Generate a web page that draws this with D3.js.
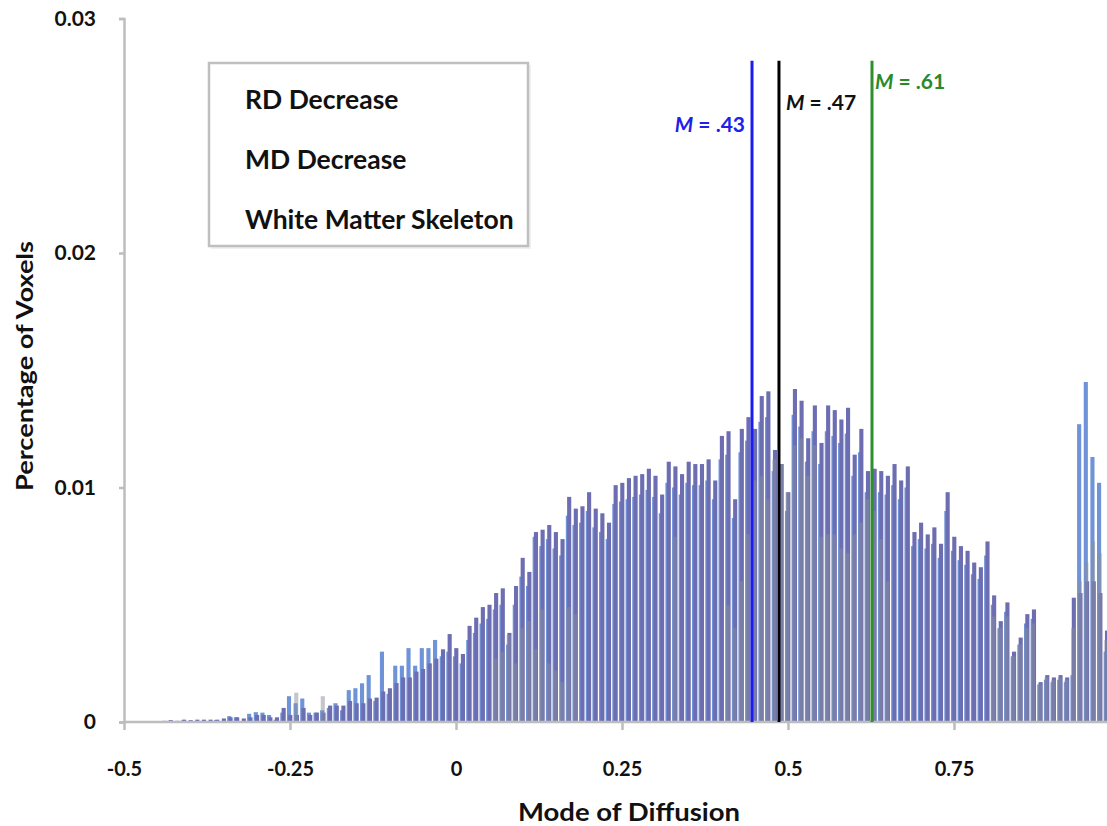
<!DOCTYPE html>
<html><head><meta charset="utf-8">
<script src="https://cdn.jsdelivr.net/npm/d3@7"></script>
<style>
html,body{margin:0;padding:0;background:#fff;}
svg{display:block;}
text{font-family:Lato,"Open Sans",sans-serif;}
</style></head>
<body>
<script>
// Bin centres: -0.49 ... 0.99 in steps of 0.01 (149 bins)
const binStart = -0.49, binStep = 0.01;
const seriesNames = ["RD Decrease", "MD Decrease", "White Matter Skeleton"];

// RD Decrease (light blue)
const rdDecrease = [
 0,0,0,0,0,0,0.00005,0,0.00006,0,
 0,0.00005,0,0.00008,0,0.00025,0.0002,0,0.00035,0.00042,
 0.0004,0.0003,0.0001,0.0004,0.0011,0.0008,0.001,0.0004,0.0004,0.0005,
 0.0006,0.0008,0.0005,0.00136,0.00144,0.00165,0.002,0.0009,0.003,0.0012,
 0.0024,0.0024,0.00315,0.0024,0.00315,0.00315,0.0035,0.0028,0.003,0.0028,
 0.0025,0.0035,0.0038,0.0042,0.0044,0.0048,0.005,0.0033,0.005,0.0062,
 0.0058,0.0079,0.0075,0.0078,0.0074,0.0071,0.0088,0.0084,0.0085,0.009,
 0.0083,0.0081,0.0078,0.0093,0.0094,0.0095,0.0096,0.0097,0.0099,0.0096,
 0.0089,0.0102,0.01,0.0097,0.0102,0.0101,0.0101,0.0103,0.0095,0.0112,
 0.0114,0.0087,0.0115,0.012,0.0115,0.0128,0.013,0.0107,0.0101,0.009,
 0.0131,0.0126,0.0111,0.0124,0.011,0.0124,0.0122,0.0119,0.0123,0.0105,
 0.0115,0.0098,0.0099,0.0098,0.0097,0.0101,0.0095,0.01,0.0075,0.0078,
 0.0074,0.0076,0.007,0.009,0.0073,0.0069,0.0067,0.0063,0.0061,0.0071,
 0.005,0.004,0.0047,0.0028,0.0033,0.0042,0.0044,0.0016,0.0018,0.0017,
 0.0018,0.0017,0.002,0.0127,0.0145,0.0113,0.0102,0.003,0.003
];
// MD Decrease (grey)
const mdDecrease = [
 0,0,0,0,0,0,0,0,0,0,
 0,0,0,0,0,0,0,0,0,0,
 0,0,0,0,0,0.00125,0,0,0,0.0011,
 0,0,0,0,0,0,0,0,0,0,
 0,0,0,0,0,0,0,0,0,0,
 0,0,0,0,0,0.0027,0.003,0.0037,0.0025,0.004,
 0.0043,0.0031,0.0048,0.0025,0.0022,0.0017,0.0049,0.0046,0,0,
 0,0,0,0,0,0,0,0,0,0,
 0,0,0.0079,0,0,0,0,0,0,0,
 0.005,0.004,0.006,0.008,0.0103,0.0105,0.0095,0.0112,0.011,0.0098,
 0.0118,0.0121,0.0105,0.0118,0.0079,0.008,0.008,0.0074,0.0072,0.008,
 0.0085,0.0095,0.009,0.0078,0.006,0,0,0,0,0,
 0,0,0,0,0,0,0,0,0,0,
 0.0045,0.004,0.0045,0.0028,0.0033,0.004,0.0042,0.0016,0.0019,0.0018,
 0.0019,0.0018,0.004,0.006,0.0068,0.0077,0.0072,0.0035,0.0035
];
// White Matter Skeleton (purple)
const skeleton = [
 0,0,0,0,0,0.00005,0.00008,0.00005,0.0001,0.00008,
 0.0001,0.0001,0.0001,0.0001,0.00015,0.0002,0.0002,0.00015,0.0002,0.0003,
 0.0003,0.0002,0.0002,0.0006,0.0003,0.0003,0.0006,0.0003,0.0004,0.0004,
 0.0007,0.0007,0.0007,0.0009,0.0008,0.0008,0.001,0.00104,0.0013,0.00144,
 0.00166,0.0019,0.0019,0.00215,0.00226,0.0025,0.0027,0.0031,0.00375,0.00315,
 0.0029,0.0041,0.00445,0.0049,0.005,0.0055,0.0057,0.0038,0.0058,0.007,
 0.0064,0.0081,0.0082,0.0084,0.0081,0.0078,0.0096,0.0091,0.0092,0.0098,
 0.0091,0.0089,0.0085,0.0101,0.0102,0.0104,0.0105,0.01057,0.0108,0.0105,
 0.0097,0.0111,0.0109,0.01057,0.0111,0.011,0.011,0.0112,0.0103,0.0122,
 0.0124,0.0095,0.0125,0.013,0.0125,0.0139,0.0141,0.0116,0.011,0.0098,
 0.0142,0.0137,0.0121,0.0135,0.0119,0.0135,0.0133,0.0129,0.0134,0.0114,
 0.0125,0.0107,0.0108,0.0107,0.0105,0.011,0.0103,0.0109,0.0081,0.0085,
 0.008,0.0083,0.0076,0.0098,0.0079,0.0075,0.0073,0.0068,0.0066,0.0077,
 0.0054,0.0043,0.0051,0.003,0.0036,0.0046,0.0048,0.0017,0.002,0.0019,
 0.002,0.0019,0.0053,0.0055,0.006,0.006,0.0055,0.0039,0.004
];

// Mean lines (drawn position on the x axis) and their labels
const meanPositions = [0.4458, 0.4864, 0.6265];
const meanLabels = [".43", ".47", ".61"];
const meanTop = 0.0282;

const xTicks = [-0.5, -0.25, 0, 0.25, 0.5, 0.75];
const xTickLabels = ["-0.5", "-0.25", "0", "0.25", "0.5", "0.75"];
const yTicks = [0, 0.01, 0.02, 0.03];
const yTickLabels = ["0", "0.01", "0.02", "0.03"];

const W = 1107, H = 826;
const svg = d3.select("body").append("svg").attr("width", W).attr("height", H);

const x = d3.scaleLinear().domain([-0.5, 1.0]).range([124, 1120]);
const y = d3.scaleLinear().domain([0, 0.03]).range([722, 18.5]);
const binPx = x(binStep) - x(0);
const barW = binPx * 0.62;

svg.append("defs").append("clipPath").attr("id", "plot")
  .append("rect").attr("x", 124).attr("y", 0).attr("width", W - 124).attr("height", 723);

const bars = svg.append("g").attr("clip-path", "url(#plot)");
const layers = [
  {data: rdDecrease, color: "#6e93d8", opacity: 1, dx: -1.0},
  {data: skeleton, color: "#6d6db2", opacity: 1, dx: 0.3},
  {data: mdDecrease, color: "#87909a", opacity: 0.5, dx: -0.4}
];
layers.forEach(L => {
  bars.append("g").selectAll("rect").data(L.data).join("rect")
    .attr("x", (d, i) => x(binStart + i * binStep) - barW / 2 + L.dx)
    .attr("width", barW)
    .attr("y", d => y(d))
    .attr("height", d => y(0) - y(d))
    .attr("fill", L.color)
    .attr("fill-opacity", L.opacity);
});

// Axes
const axisColor = "#bdbdbd";
const gx = svg.append("g").attr("transform", `translate(0,${y(0)})`)
  .call(d3.axisBottom(x).tickValues(xTicks).tickSize(8).tickPadding(32)
    .tickFormat((d, i) => xTickLabels[i]));
gx.select(".domain").attr("stroke", axisColor).attr("stroke-width", 2.5)
  .attr("d", `M${x(-0.5)},0H${W}`);
gx.selectAll(".tick line").attr("stroke", axisColor).attr("stroke-width", 2.5);
gx.selectAll(".tick text").attr("fill", "#111").style("font-size", "20px").style("font-weight", "bold");

const gy = svg.append("g").attr("transform", `translate(${x(-0.5)},0)`)
  .call(d3.axisLeft(y).tickValues(yTicks).tickSize(5).tickPadding(23)
    .tickFormat((d, i) => yTickLabels[i]));
gy.select(".domain").attr("stroke", axisColor).attr("stroke-width", 2.5);
gy.selectAll(".tick line").attr("stroke", axisColor).attr("stroke-width", 2.5);
gy.selectAll(".tick text").attr("fill", "#111").style("font-size", "21px").style("font-weight", "bold");

// Axis titles
svg.append("text").attr("x", 629).attr("y", 821).attr("text-anchor", "middle")
  .attr("textLength", 222).attr("lengthAdjust", "spacingAndGlyphs")
  .style("font-size", "24px").style("font-weight", "bold").attr("fill", "#111")
  .text("Mode of Diffusion");
svg.append("text").attr("transform", "translate(33,366) rotate(-90)").attr("text-anchor", "middle")
  .attr("textLength", 250).attr("lengthAdjust", "spacingAndGlyphs")
  .style("font-size", "23px").style("font-weight", "bold").attr("fill", "#111")
  .text("Percentage of Voxels");

// Mean lines
const lineColors = ["#1c1cf2", "#000000", "#2f8f2f"];
const labelColors = ["#2020e8", "#111111", "#2a8a2a"];
svg.append("g").selectAll("line").data(meanPositions).join("line")
  .attr("x1", d => x(d)).attr("x2", d => x(d))
  .attr("y1", y(meanTop)).attr("y2", y(0))
  .attr("stroke", (d, i) => lineColors[i]).attr("stroke-width", 3);

const labelY = [0.02516, 0.0261, 0.027];
const labelAnchor = ["end", "start", "start"];
const labelDx = [-7, 7, 3];
meanPositions.forEach((p, i) => {
  const t = svg.append("text").attr("x", x(p) + labelDx[i]).attr("y", y(labelY[i]))
    .attr("text-anchor", labelAnchor[i]).attr("fill", labelColors[i])
    .style("font-size", "21px").style("font-weight", "bold");
  t.append("tspan").style("font-style", "italic").text("M");
  t.append("tspan").text(" = " + meanLabels[i]);
});

// Legend
const lg = svg.append("g");
lg.append("rect").attr("x", 211).attr("y", 65).attr("width", 320).attr("height", 184)
  .attr("fill", "#e6e6e6").attr("opacity", 0.6);
lg.append("rect").attr("x", 209).attr("y", 63).attr("width", 319).attr("height", 183)
  .attr("fill", "#fff").attr("stroke", "#bfbfbf").attr("stroke-width", 2.5);
lg.selectAll("text").data(seriesNames).join("text")
  .attr("x", 245).attr("y", (d, i) => 109 + i * 60)
  .attr("fill", "#111").style("font-size", "26.5px").style("font-weight", "bold")
  .text(d => d);
</script>
</body></html>
